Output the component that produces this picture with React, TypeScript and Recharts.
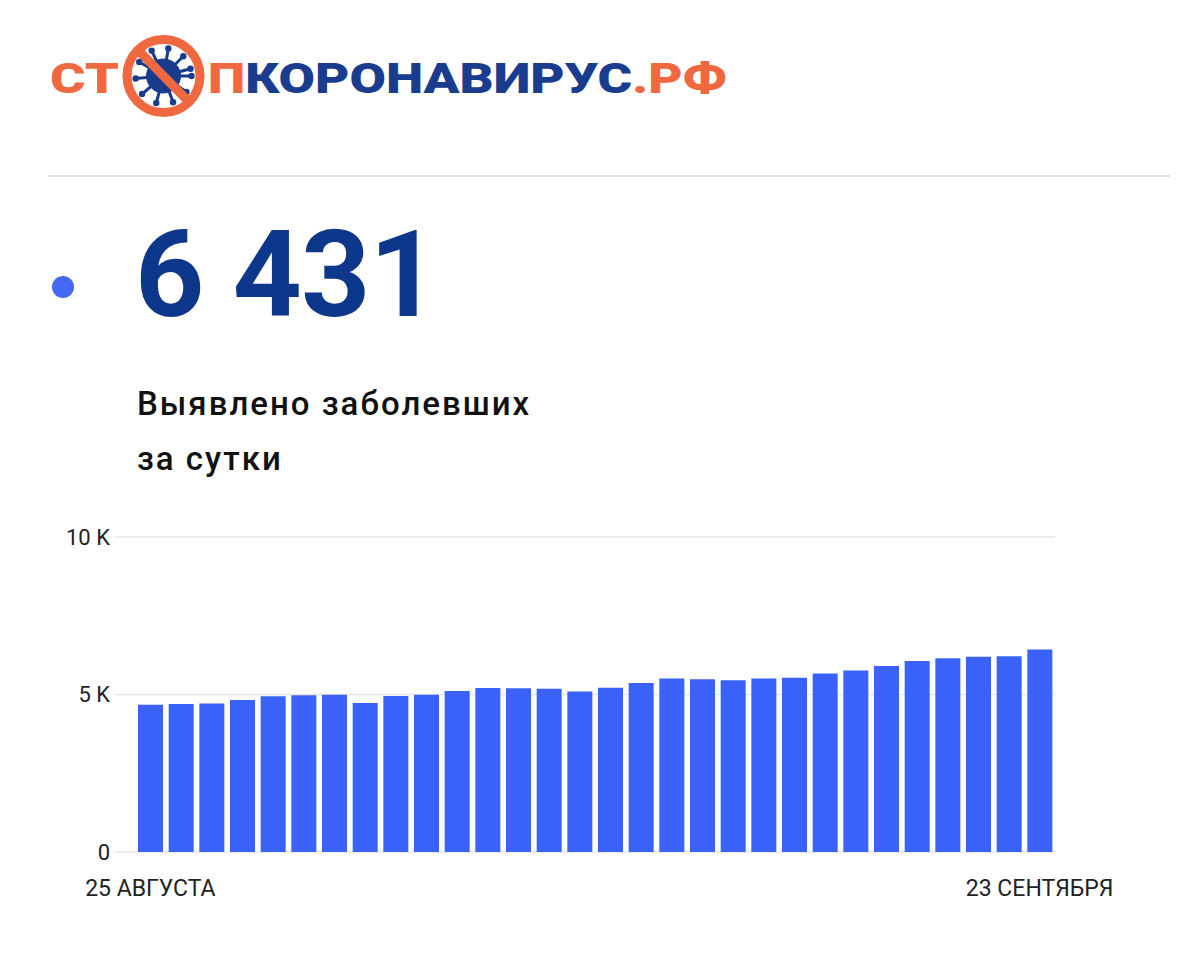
import React from 'react';
import { BarChart, Bar, XAxis, YAxis, CartesianGrid } from 'recharts';

const dates: string[] = [
  '25 АВГУСТА', '26 АВГУСТА', '27 АВГУСТА', '28 АВГУСТА', '29 АВГУСТА', '30 АВГУСТА', '31 АВГУСТА',
  '1 СЕНТЯБРЯ', '2 СЕНТЯБРЯ', '3 СЕНТЯБРЯ', '4 СЕНТЯБРЯ', '5 СЕНТЯБРЯ', '6 СЕНТЯБРЯ', '7 СЕНТЯБРЯ',
  '8 СЕНТЯБРЯ', '9 СЕНТЯБРЯ', '10 СЕНТЯБРЯ', '11 СЕНТЯБРЯ', '12 СЕНТЯБРЯ', '13 СЕНТЯБРЯ', '14 СЕНТЯБРЯ',
  '15 СЕНТЯБРЯ', '16 СЕНТЯБРЯ', '17 СЕНТЯБРЯ', '18 СЕНТЯБРЯ', '19 СЕНТЯБРЯ', '20 СЕНТЯБРЯ', '21 СЕНТЯБРЯ',
  '22 СЕНТЯБРЯ', '23 СЕНТЯБРЯ',
];

const cases: number[] = [
  4676, 4696, 4711, 4829, 4941, 4980, 4993, 4729, 4952, 4995,
  5110, 5205, 5195, 5185, 5099, 5218, 5363, 5509, 5488, 5449,
  5509, 5529, 5670, 5762, 5905, 6065, 6148, 6196, 6215, 6431,
];

const yTicks: number[] = [0, 5000, 10000];
const xTicks: string[] = ['25 АВГУСТА', '23 СЕНТЯБРЯ'];

const headline = '6 431';
const subtitle1 = 'Выявлено заболевших';
const subtitle2 = 'за сутки';

const data = dates.map((d, i) => ({ date: d, value: cases[i] }));

const ORANGE = '#ef6840';
const NAVY = '#1a3c8f';
const BAR = '#3a62f9';

const fmtY = (v: number) => (v === 0 ? '0' : `${v / 1000} K`);

const XTick = (props: any) => {
  const { x, y, payload } = props;
  return (
    <text x={x} y={y + 36} textAnchor="middle" fill="#222" fontSize={23} fontFamily="Roboto, sans-serif">
      {payload.value}
    </text>
  );
};

const spikes = [0, 35, 70, 105, 140, 175, 210, 245, 280, 315, 345];

const Logo = () => (
  <svg style={{ position: 'absolute', left: 0, top: 0 }} width={760} height={130}>
    <g fontFamily="Roboto, sans-serif" fontWeight={900} fontSize={43}>
      <text x={50} y={93} fill={ORANGE} textLength={69} lengthAdjust="spacingAndGlyphs">СТ</text>
      <text x={208} y={93} textLength={519} lengthAdjust="spacingAndGlyphs">
        <tspan fill={ORANGE}>П</tspan>
        <tspan fill={NAVY}>КОРОНАВИРУС</tspan>
        <tspan fill={ORANGE}>.РФ</tspan>
      </text>
    </g>
    <g fill={NAVY} stroke={NAVY}>
      <circle cx={163.5} cy={76} r={17} />
      {spikes.map((a) => {
        const r = (a * Math.PI) / 180;
        return (
          <g key={a}>
            <line x1={163.5} y1={76} x2={163.5 + Math.cos(r) * 28} y2={76 + Math.sin(r) * 28} strokeWidth={3} />
            <circle cx={163.5 + Math.cos(r) * 28} cy={76 + Math.sin(r) * 28} r={3.2} stroke="none" />
          </g>
        );
      })}
    </g>
    <circle cx={163.5} cy={76} r={36.5} fill="none" stroke={ORANGE} strokeWidth={9} />
    <line x1={138} y1={50} x2={189} y2={102} stroke={ORANGE} strokeWidth={9} />
  </svg>
);

export default function App() {
  return (
    <div style={{ position: 'absolute', left: 0, top: 0, width: 1200, height: 962, background: '#fff', overflow: 'hidden' }}>
      <Logo />
      <div style={{ position: 'absolute', left: 48, top: 175, width: 1122, height: 2, background: '#e3e3e3' }} />
      <div style={{ position: 'absolute', left: 52, top: 276, width: 22, height: 22, borderRadius: 11, background: '#4568f5' }} />
      <div style={{ position: 'absolute', left: 135, top: 200, fontFamily: 'Roboto, sans-serif', fontWeight: 700,
        fontSize: 121, lineHeight: '150px', color: '#0c378a', letterSpacing: -1 }}>{headline}</div>
      <div style={{ position: 'absolute', left: 137, top: 376, fontFamily: 'Roboto, sans-serif', fontWeight: 500,
        fontSize: 33, lineHeight: '55px', color: '#111', letterSpacing: 2 }}>
        <div>{subtitle1}</div>
        <div>{subtitle2}</div>
      </div>
      <div style={{ position: 'absolute', left: 0, top: 500 }}>
        <BarChart width={1200} height={420} data={data} margin={{ top: 37, right: 145, bottom: 8, left: 0 }} barCategoryGap={3}>
          <CartesianGrid vertical={false} stroke="#e6e6e6" strokeWidth={1.5} />
          <XAxis dataKey="date" ticks={xTicks} interval={0} tick={<XTick />} tickLine={false} axisLine={false}
            height={60} padding={{ left: 20, right: 0 }} />
          <YAxis domain={[0, 10000]} ticks={yTicks} tickFormatter={fmtY} width={115} tickLine={false} axisLine={false}
            tickSize={0} tickMargin={5} tick={{ fill: '#222', fontSize: 22, fontFamily: 'Roboto, sans-serif' }} />
          <Bar dataKey="value" fill={BAR} isAnimationActive={false} />
        </BarChart>
      </div>
    </div>
  );
}
